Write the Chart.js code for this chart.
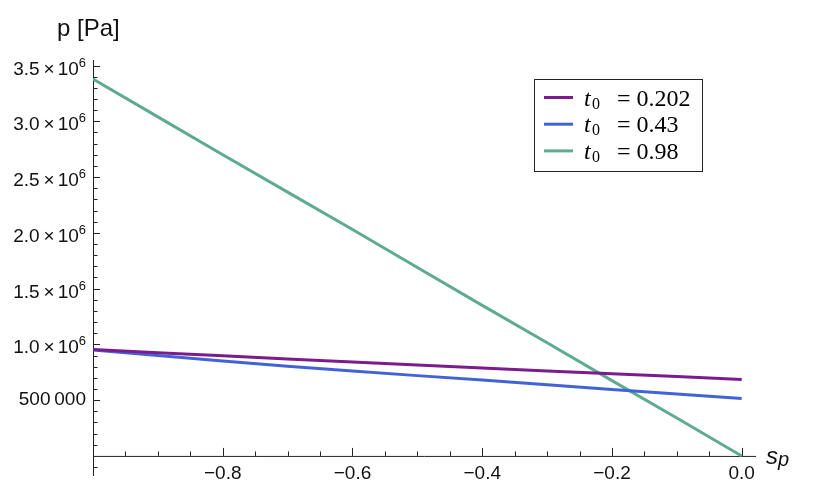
<!DOCTYPE html>
<html>
<head>
<meta charset="utf-8">
<script src="https://cdn.jsdelivr.net/npm/chart.js@4"></script>
<style>
  body { margin: 0; background: #fff; }
  #wrap { width: 830px; height: 504px; }
</style>
</head>
<body>
<div id="wrap"><canvas id="pChart" width="830" height="504"></canvas></div>
<script>
// values
const sValues = [-1.0, -0.9, -0.8, -0.7, -0.6, -0.5, -0.4, -0.3, -0.2, -0.1, 0.0];
const pT0202 = [955000, 925000, 898000, 870000, 842000, 815000, 788000, 762000, 737000, 712000, 686000];
const pT043  = [950000, 900000, 852000, 805000, 762000, 720000, 680000, 638000, 595000, 555000, 515000];
const pT098  = [3380000, 3040000, 2700000, 2365000, 2030000, 1690000, 1350000, 1015000, 675000, 340000, 0];
const seriesLabels = ['0.202', '0.43', '0.98'];
const seriesColors = ['#7b1c8c', '#4263d6', '#5fab90'];

const xTickValues = [-0.8, -0.6, -0.4, -0.2, 0.0];
const xTickLabels = ['\u22120.8', '\u22120.6', '\u22120.4', '\u22120.2', '0.0'];
const yTickValues = [500000, 1000000, 1500000, 2000000, 2500000, 3000000, 3500000];
const yTickLabels = ['500\u2009000', '1.0', '1.5', '2.0', '2.5', '3.0', '3.5'];

function toPoints(ys) {
    return sValues.map((s, i) => ({ x: s, y: ys[i] }));
}

const tickFont = '19px "Liberation Sans", Arial, sans-serif';
const supFont = '13px "Liberation Sans", Arial, sans-serif';
const axisColor = '#222';

// Mathematica style axes: y axis at left edge, x axis through p = 0
const mathAxes = {
    id: 'mathAxes',
    beforeDatasetsDraw(chart) {
        const ctx = chart.ctx;
        const xs = chart.scales.x, ys = chart.scales.y;
        const area = chart.chartArea;
        const y0 = ys.getPixelForValue(0);
        const xl = area.left;

        ctx.save();
        ctx.strokeStyle = axisColor;
        ctx.lineWidth = 1;
        ctx.beginPath();
        ctx.moveTo(xl, y0 + 0.5); ctx.lineTo(area.right, y0 + 0.5);
        ctx.moveTo(xl + 0.5, area.top); ctx.lineTo(xl + 0.5, area.bottom);
        ctx.stroke();

        // x ticks (inward, pointing up)
        ctx.beginPath();
        for (let k = -19; k <= 0; k++) {
            const v = k * 0.05;
            const px = Math.round(xs.getPixelForValue(v)) + 0.5;
            const major = (k % 4 === 0);
            ctx.moveTo(px, y0);
            ctx.lineTo(px, y0 - (major ? 8 : 4.5));
        }
        // y ticks (inward, pointing right)
        for (let k = -1; k <= 35; k++) {
            if (k === 0) continue;
            const py = Math.round(ys.getPixelForValue(k * 100000)) + 0.5;
            const major = (k % 5 === 0);
            ctx.moveTo(xl, py);
            ctx.lineTo(xl + (major ? 7 : 4.5), py);
        }
        ctx.stroke();

        ctx.fillStyle = '#111';
        ctx.font = tickFont;
        ctx.textAlign = 'center';
        ctx.textBaseline = 'middle';
        xTickValues.forEach((v, i) => {
            ctx.fillText(xTickLabels[i], xs.getPixelForValue(v), y0 + 18);
        });

        // y tick labels, right aligned at x = 86
        const rightX = xl - 7;
        yTickValues.forEach((v, i) => {
            const py = ys.getPixelForValue(v);
            const lab = yTickLabels[i];
            if (i === 0) {
                ctx.font = tickFont;
                ctx.textAlign = 'right';
                ctx.textBaseline = 'middle';
                ctx.fillText(lab, rightX, py);
                return;
            }
            // mantissa × 10^6
            ctx.textBaseline = 'alphabetic';
            ctx.textAlign = 'left';
            ctx.font = supFont;
            const wSup = ctx.measureText('6').width;
            ctx.font = tickFont;
            const wTen = ctx.measureText('10').width;
            const wTimes = ctx.measureText('\u00d7').width;
            const xSup = rightX - wSup;
            const xTen = xSup - wTen;
            const xTimes = xTen - 3 - wTimes;
            ctx.fillText('10', xTen, py + 9);
            ctx.fillText('\u00d7', xTimes, py + 9);
            ctx.textAlign = 'right';
            ctx.fillText(lab, xTimes - 4, py + 9);
            ctx.textAlign = 'left';
            ctx.font = supFont;
            ctx.fillText('6', xSup, py + 1);
        });

        // axis labels
        ctx.font = '24px "Liberation Sans", Arial, sans-serif';
        ctx.textAlign = 'left';
        ctx.textBaseline = 'alphabetic';
        ctx.fillText('p [Pa]', 57, 36);

        ctx.font = 'italic 24px "Liberation Sans", Arial, sans-serif';
        ctx.fillText('s', 766, 464);
        ctx.font = 'italic 20px "Liberation Sans", Arial, sans-serif';
        ctx.fillText('p', 778, 466);
        ctx.restore();
    }
};

// boxed legend, drawn inside the plot
const boxLegend = {
    id: 'boxLegend',
    afterDatasetsDraw(chart) {
        const ctx = chart.ctx;
        const bx = 534, by = 79, bw = 168, bh = 92;
        ctx.save();
        ctx.fillStyle = '#fff';
        ctx.fillRect(bx, by, bw, bh);
        ctx.strokeStyle = '#222';
        ctx.lineWidth = 1;
        ctx.strokeRect(bx + 0.5, by + 0.5, bw, bh);
        chart.data.datasets.forEach((ds, i) => {
            const ly = 97.5 + i * 26.7;
            ctx.strokeStyle = ds.borderColor;
            ctx.lineWidth = 3;
            ctx.beginPath();
            ctx.moveTo(544, ly); ctx.lineTo(573, ly);
            ctx.stroke();
            ctx.fillStyle = '#000';
            ctx.textBaseline = 'alphabetic';
            ctx.textAlign = 'left';
            ctx.font = 'italic 24px "Liberation Serif", serif';
            ctx.fillText('t', 584, ly + 8);
            ctx.font = '16px "Liberation Serif", serif';
            ctx.fillText('0', 592, ly + 11);
            ctx.font = '24px "Liberation Serif", serif';
            ctx.fillText('= ' + seriesLabels[i], 617, ly + 8);
        });
        ctx.restore();
    }
};

const datasets = [pT0202, pT043, pT098].map((ys, i) => ({
    label: 't0 = ' + seriesLabels[i],
    data: toPoints(ys),
    borderColor: seriesColors[i],
    borderWidth: 3,
    pointRadius: 0,
    tension: 0,
    fill: false
}));

new Chart(document.getElementById('pChart'), {
    type: 'line',
    data: { datasets: datasets },
    options: {
        responsive: false,
        animation: false,
        devicePixelRatio: 1,
        layout: { padding: { left: 93, top: 60, right: 74, bottom: 28 } },
        scales: {
            x: { type: 'linear', min: -1, max: 0.022, display: false },
            y: { type: 'linear', min: -180000, max: 3550000, display: false }
        },
        plugins: {
            legend: { display: false },
            tooltip: { enabled: false }
        }
    },
    plugins: [mathAxes, boxLegend]
});
</script>
</body>
</html>
